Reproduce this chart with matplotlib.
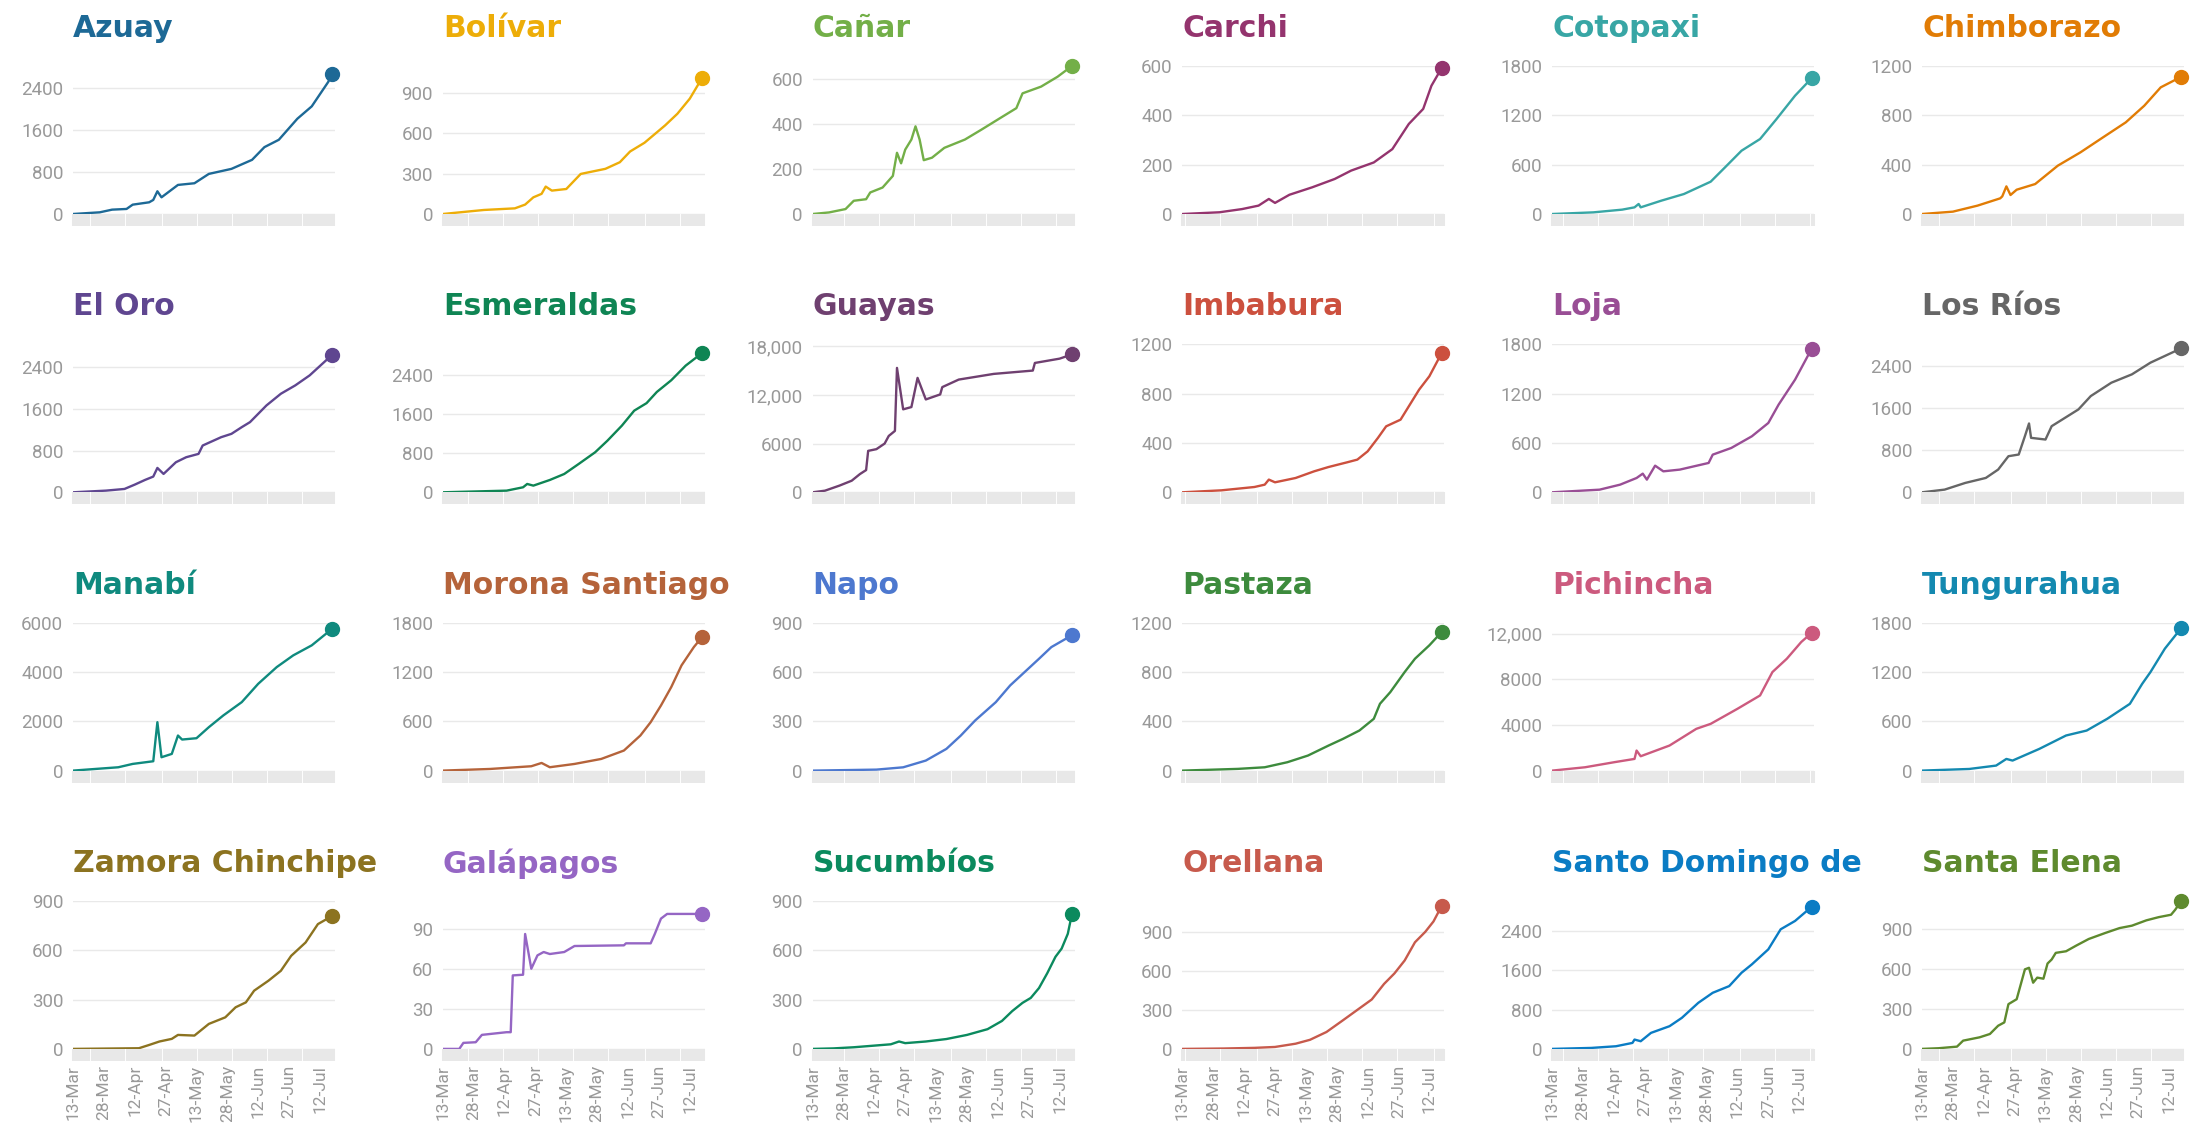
import matplotlib
matplotlib.use("Agg")
import matplotlib.pyplot as plt

# ---------------- data (day index from 13-Mar, cumulative cases) ----------------
provinces = ["Azuay", "Bolívar", "Cañar", "Carchi", "Cotopaxi", "Chimborazo",
             "El Oro", "Esmeraldas", "Guayas", "Imbabura", "Loja", "Los Ríos",
             "Manabí", "Morona Santiago", "Napo", "Pastaza", "Pichincha", "Tungurahua",
             "Zamora Chinchipe", "Galápagos", "Sucumbíos", "Orellana", "Santo Domingo de", "Santa Elena"]

colors = ["#1d6996", "#edad08", "#73af48", "#94346e", "#38a6a5", "#e17c05",
          "#5f4690", "#0f8554", "#6f4070", "#cc503e", "#994e95", "#666666",
          "#0f8a7e", "#b5633a", "#4d78cf", "#3d8b3d", "#cc5a7e", "#1489b0",
          "#8c7320", "#9566c4", "#0b8a5e", "#c75a4c", "#0a7cc4", "#5e8a2e"]

tick_steps = [800, 300, 200, 200, 600, 400,
              800, 800, 6000, 400, 600, 800,
              2000, 600, 300, 400, 4000, 600,
              300, 30, 300, 300, 800, 300]

y_tops = [2820, 1101, 660, 600, 1800, 1200,
          2835, 3038, 18250, 1200, 1800, 2813,
          6000, 1800, 900, 1200, 12966, 1800,
          900, 110.75, 900, 1138, 3012, 1111]

date_ticks = [0, 15, 30, 45, 60, 75, 90, 105, 120]
date_labels = ["13-Mar", "28-Mar", "12-Apr", "27-Apr", "13-May", "28-May", "12-Jun", "27-Jun", "12-Jul"]

azuay = [(0, 0), (13, 32), (19, 83), (26, 96), (29, 178), (37, 223), (39, 268), (41, 433), (43, 318),
         (51, 554), (59, 586), (66, 764), (77, 860), (87, 1032), (93, 1274), (100, 1414), (109, 1815),
         (116, 2051), (124, 2516), (126, 2675)]
bolivar = [(0, 0), (20, 30), (35, 42), (40, 70), (44, 124), (48, 150), (50, 204), (53, 174), (60, 186),
           (67, 298), (79, 336), (86, 385), (91, 465), (98, 530), (108, 659), (114, 746), (120, 858), (126, 1012)]
canar = [(0, 0), (8, 7), (16, 22), (20, 59), (26, 66), (28, 96), (34, 118), (39, 170), (41, 273), (43, 226),
         (45, 287), (48, 332), (50, 391), (52, 332), (54, 240), (58, 251), (64, 295), (74, 332), (82, 376),
         (91, 427), (99, 472), (102, 538), (111, 568), (119, 612), (126, 660)]
carchi = [(0, 0), (18, 7), (29, 20), (37, 34), (42, 61), (45, 45), (52, 78), (63, 108), (74, 142), (82, 176),
          (93, 209), (102, 263), (110, 365), (117, 426), (121, 520), (126, 592)]
cotopaxi = [(0, 0), (20, 20), (34, 53), (40, 81), (42, 122), (43, 81), (53, 162), (64, 243), (77, 393),
            (84, 568), (92, 770), (101, 912), (109, 1155), (118, 1439), (126, 1650)]
chimborazo = [(0, 0), (15, 19), (27, 68), (38, 127), (39, 143), (41, 224), (43, 154), (46, 197), (55, 243),
              (66, 392), (77, 500), (88, 622), (99, 743), (108, 878), (116, 1027), (126, 1113)]
el_oro = [(0, 0), (16, 32), (25, 64), (30, 147), (35, 237), (39, 301), (41, 467), (44, 352), (50, 576),
          (55, 672), (61, 736), (63, 896), (72, 1056), (77, 1120), (82, 1248), (86, 1344), (94, 1664),
          (101, 1888), (108, 2048), (115, 2240), (126, 2637)]
esmeraldas = [(0, 0), (31, 34), (39, 103), (41, 171), (44, 137), (52, 253), (59, 376), (66, 581), (74, 821),
              (80, 1060), (87, 1368), (93, 1676), (99, 1830), (104, 2060), (111, 2300), (118, 2600), (126, 2860)]
guayas = [(0, 0), (6, 200), (13, 820), (19, 1430), (23, 2250), (26, 2740), (27, 5110), (31, 5320), (35, 6010),
          (37, 6950), (40, 7570), (41, 15340), (44, 10230), (48, 10510), (51, 14110), (55, 11450), (62, 12070),
          (63, 12970), (71, 13900), (88, 14600), (107, 15010), (108, 15950), (120, 16480), (126, 17000)]
imbabura = [(0, 0), (19, 16), (35, 43), (40, 62), (42, 103), (45, 81), (55, 116), (64, 170), (71, 205),
            (80, 243), (85, 265), (90, 332), (95, 441), (99, 535), (106, 589), (111, 724), (115, 832),
            (120, 941), (126, 1130)]
loja = [(0, 0), (23, 32), (33, 93), (41, 174), (44, 227), (46, 154), (50, 324), (54, 255), (62, 276),
        (76, 357), (78, 458), (87, 539), (97, 681), (105, 843), (110, 1066), (118, 1370), (126, 1743)]
los_rios = [(0, 0), (11, 51), (21, 178), (31, 273), (37, 432), (42, 686), (47, 718), (50, 1067), (52, 1308),
            (53, 1035), (60, 1003), (63, 1257), (76, 1575), (82, 1829), (92, 2083), (102, 2242), (111, 2464),
            (126, 2737)]
manabi = [(0, 0), (22, 135), (29, 271), (39, 379), (41, 1963), (43, 542), (48, 677), (51, 1422), (53, 1259),
          (60, 1313), (66, 1760), (73, 2234), (82, 2776), (90, 3520), (99, 4197), (107, 4671), (116, 5078),
          (126, 5755)]
morona = [(0, 0), (23, 20), (43, 53), (48, 93), (52, 41), (64, 81), (77, 142), (88, 244), (96, 427),
          (101, 589), (106, 792), (111, 1016), (116, 1280), (122, 1503), (126, 1625)]
napo = [(0, 0), (31, 6), (44, 20), (55, 61), (65, 132), (72, 213), (79, 305), (89, 416), (96, 518),
        (103, 599), (110, 680), (116, 751), (126, 823)]
pastaza = [(0, 0), (27, 14), (40, 27), (51, 68), (61, 122), (71, 203), (78, 257), (86, 325), (93, 420),
           (96, 542), (101, 636), (108, 799), (113, 907), (120, 1016), (126, 1124)]
pichincha = [(0, 0), (16, 293), (30, 731), (40, 1024), (41, 1756), (43, 1258), (57, 2195), (70, 3658),
             (77, 4096), (90, 5413), (101, 6584), (107, 8632), (114, 9802), (121, 11265), (126, 12055)]
tungurahua = [(0, 0), (23, 20), (36, 61), (41, 142), (44, 122), (57, 264), (70, 427), (80, 487), (90, 630),
              (101, 812), (107, 1056), (111, 1198), (118, 1483), (126, 1735)]
zamora = [(0, 0), (32, 4), (37, 24), (42, 45), (48, 61), (51, 85), (59, 81), (66, 152), (74, 192), (79, 253),
          (84, 283), (88, 354), (95, 415), (101, 475), (106, 566), (113, 647), (119, 759), (126, 809)]
galapagos = [(0, 0), (8, 0), (10, 4.5), (16, 5), (19, 10.5), (31, 12.5), (33, 12.5), (34, 55), (39, 55.5),
             (40, 86), (43, 60), (46, 70), (49, 72.5), (52, 71), (59, 72.5), (64, 77), (88, 77.5), (89, 79),
             (101, 79), (103, 86), (106, 97.5), (109, 101), (126, 101)]
sucumbios = [(0, 0), (10, 3), (20, 10), (30, 20), (38, 28), (42, 45), (45, 35), (55, 45), (65, 60), (75, 85),
             (85, 120), (92, 170), (97, 230), (102, 280), (106, 310), (110, 370), (114, 460), (118, 560),
             (121, 610), (124, 700), (126, 820)]
orellana = [(0, 0), (20, 3), (35, 8), (45, 15), (55, 40), (62, 70), (70, 130), (78, 220), (85, 300), (92, 380),
            (98, 500), (103, 580), (108, 680), (113, 820), (118, 900), (122, 980), (126, 1100)]
santo_domingo = [(0, 0), (19, 20), (31, 54), (39, 122), (40, 190), (43, 156), (48, 326), (57, 462), (63, 632),
                 (71, 938), (78, 1142), (86, 1278), (92, 1550), (97, 1720), (105, 2026), (111, 2434),
                 (118, 2604), (126, 2890)]
santa_elena = [(0, 0), (8, 5), (17, 17), (20, 62), (28, 87), (33, 112), (37, 174), (40, 199), (42, 336),
               (46, 373), (50, 597), (52, 609), (54, 497), (56, 535), (59, 527), (61, 641), (63, 671), (65, 721),
               (70, 733), (75, 776), (81, 825), (89, 870), (96, 907), (102, 925), (109, 965), (115, 989),
               (121, 1007), (123, 1044), (126, 1111)]

series = [azuay, bolivar, canar, carchi, cotopaxi, chimborazo,
          el_oro, esmeraldas, guayas, imbabura, loja, los_rios,
          manabi, morona, napo, pastaza, pichincha, tungurahua,
          zamora, galapagos, sucumbios, orellana, santo_domingo, santa_elena]

# ---------------- layout ----------------
W, H = 2190, 1123
DPI = 100
fig = plt.figure(figsize=(W / DPI, H / DPI), dpi=DPI)
fig.patch.set_facecolor("white")

col_left0, col_step, plot_w = 73, 369.8, 262
row_zero0, row_step, plot_h = 214, 278.3, 148
x_max = 127.3

tick_font = "Roboto"
grey = "#999999"

def fmt(v):
    v = int(v)
    return f"{v:,}" if v >= 10000 else str(v)

for i, (name, col, step, ytop, pts) in enumerate(zip(provinces, colors, tick_steps, y_tops, series)):
    r, c = divmod(i, 6)
    left = col_left0 + c * col_step
    zero = row_zero0 + r * row_step
    ax = fig.add_axes([left / W, 1 - zero / H, plot_w / W, plot_h / H])
    xs = [p[0] for p in pts]
    ys = [p[1] for p in pts]
    ax.plot(xs, ys, color=col, lw=1.7, solid_joinstyle="round", solid_capstyle="round", zorder=3)
    ax.plot([xs[-1]], [ys[-1]], "o", color=col, ms=10, clip_on=False, zorder=4)
    ax.set_xlim(0, x_max)
    ax.set_ylim(0, ytop)
    yt = [step * k for k in range(4) if step * k <= ytop * 1.001]
    ax.set_yticks(yt)
    ax.set_yticklabels([fmt(v) for v in yt], fontsize=13.5, color=grey, family=tick_font)
    ax.tick_params(axis="y", length=0, pad=7)
    ax.grid(axis="y", color="#e9e9e9", lw=1.0, zorder=0)
    for s in ax.spines.values():
        s.set_visible(False)
    ax.set_xticks(list(range(0, 128)), minor=True)
    ax.set_xticks(date_ticks)
    ax.tick_params(axis="x", which="both", length=8.6, width=1.45, color="#e8e8e8", direction="out")
    if r == 3:
        ax.set_xticklabels(date_labels, rotation=90, fontsize=12.5, color=grey, family=tick_font)
        ax.tick_params(axis="x", which="major", pad=3)
    else:
        ax.set_xticklabels([])
    ax.annotate(name, xy=(0, 1), xycoords="axes fraction", xytext=(0, 27), textcoords="offset points",
                ha="left", va="center", fontsize=21.5, fontweight="bold", color=col, family="DejaVu Sans")

fig.savefig("out.png", dpi=DPI, facecolor="white")
